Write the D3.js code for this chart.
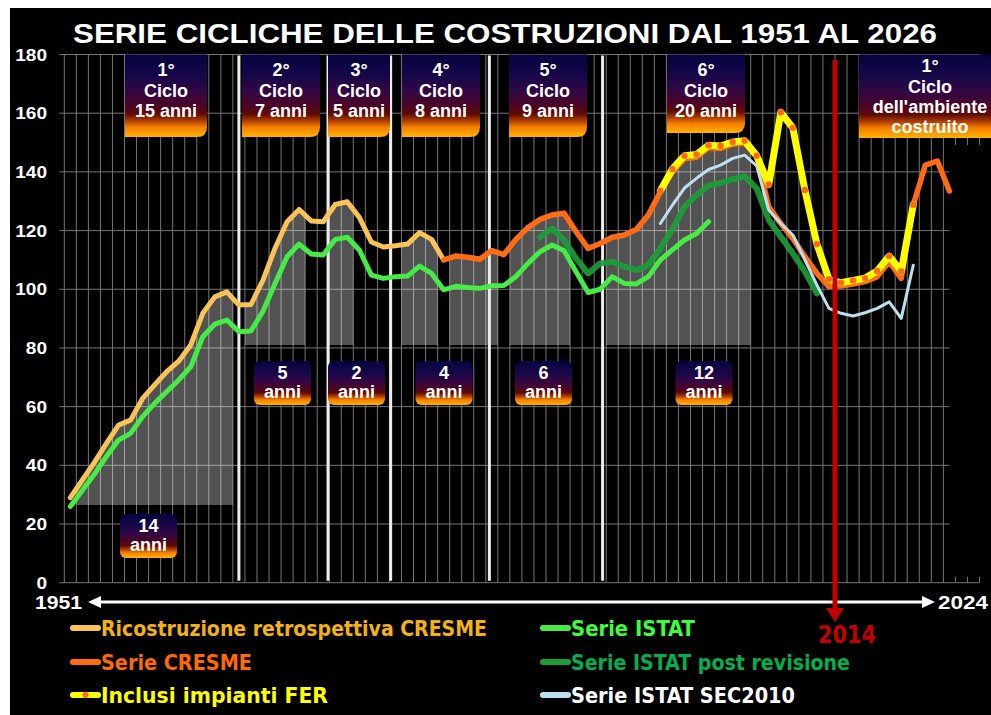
<!DOCTYPE html>
<html>
<head>
<meta charset="utf-8">
<script src="https://cdn.jsdelivr.net/npm/d3@7"></script>
<style>
  html, body { margin: 0; padding: 0; background: #ffffff; }
  svg { display: block; }
</style>
</head>
<body>
<svg id="chart" width="991" height="715"></svg>
<script>
// ---------------- data ----------------
const yTicks = [0, 20, 40, 60, 80, 100, 120, 140, 160, 180];

// Ricostruzione retrospettiva CRESME, 1951-1982
const recoStart = 1951;
const recoValues = [29, 35, 41, 47.5, 53.7, 55.4, 62.8, 67.4, 71.9, 75.5,
  81, 91.8, 97.4, 99.1, 94.6, 94.8, 103.1, 114, 123, 127.2,
  123.3, 123, 128.9, 129.8, 124.5, 116.1, 114.4, 114.8, 115.4, 119.3,
  117, 110];

// Serie ISTAT, 1951-2004
const istatStart = 1951;
const istatValues = [26, 31.5, 37, 43, 48.6, 50.9, 56.6, 61.1, 65.1, 69.1,
  73.6, 83.8, 88.1, 89.5, 85.5, 85.8, 92.5, 102, 111.1, 115.4,
  112, 111.7, 117, 117.7, 113.4, 104.8, 103.7, 104.3, 104.5, 107.9,
  105.4, 99.8, 101, 100.6, 100.3, 101.2, 101.3, 104.3, 108.8, 112.8,
  115.1, 113.1, 106, 98.9, 100, 104.3, 102, 101.8, 104.3, 110,
  113.4, 116.8, 119, 123];

// Serie CRESME, 1982-2024
const cresmeStart = 1982;
const cresmeValues = [110, 111.3, 110.9, 110.2, 113.2, 111.8, 117, 121, 123.8, 125.3,
  125.9, 119.6, 113.9, 115.6, 117.7, 118.5, 120.4, 125.3, 133.2, 140,
  144.5, 145, 148.2, 148, 149.4, 149.8, 145.2, 128.1, 122.4, 117.3,
  111.1, 105.4, 100.9, 101.1, 101.8, 102.6, 104.3, 109.4, 103.7, 128.7,
  142.3, 143.7, 133.5];

// Serie ISTAT post revisione, 1990-2013
const istatRevStart = 1990;
const istatRevValues = [117.7, 120.7, 116.8, 110.5, 105.4, 108.8, 109.4, 107.7, 106.5, 108.2,
  114, 120.5, 128.1, 132.1, 135.3, 136.2, 137.5, 138.5, 134.4, 123.6,
  117.9, 112.2, 106, 98.6];

// Serie ISTAT SEC2010, 2000-2021
const secStart = 2000;
const secValues = [122.4, 128.7, 134.5, 137.8, 140.8, 142.3, 144.6, 145.7, 142, 127,
  122.4, 118.5, 110, 101.4, 93.5, 91.8, 90.9, 92, 93.5, 95.7,
  90.1, 108.2];

// Inclusi impianti FER, 2000-2021
const ferStart = 2000;
const ferValues = [133.6, 141, 145.5, 145.9, 149.1, 148.8, 150.2, 150.6, 145.5, 135.7,
  160.3, 155, 133.8, 115.4, 103.4, 102.2, 103, 103.8, 106.2, 111.3,
  106.1, 128.8];

// expansion phases (shaded), first and last year, floor value
const phaseFrom = [1952, 1966, 1973, 1979, 1983, 1988, 1996];
const phaseTo   = [1964, 1970, 1974, 1981, 1986, 1992, 2007];
const phaseBase = [26.5, 81, 81, 81, 81, 81, 81];

// cycle boundaries (years)
const cycleBreaks = [1965.0, 1972.4, 1977.6, 1985.8, 1995.2];
const markerYear = 2014;

const cycleTitles = [
  ["1°", "Ciclo", "15 anni"],
  ["2°", "Ciclo", "7 anni"],
  ["3°", "Ciclo", "5 anni"],
  ["4°", "Ciclo", "8 anni"],
  ["5°", "Ciclo", "9 anni"],
  ["6°", "Ciclo", "20 anni"],
  ["1°", "Ciclo", "dell'ambiente", "costruito"]
];
const durationLabels = ["14", "5", "2", "4", "6", "12"];

// ---------------- layout ----------------
const W = 991, H = 715;
const topBoxes = [
  { x0: 125, x1: 207, y1: 137, cx: 166 },
  { x0: 242, x1: 320, y1: 137, cx: 281 },
  { x0: 328, x1: 390, y1: 137, cx: 359 },
  { x0: 402, x1: 480, y1: 137, cx: 441 },
  { x0: 509, x1: 587, y1: 137, cx: 548 },
  { x0: 667, x1: 745, y1: 133, cx: 706 },
  { x0: 859, x1: 1010, y1: 138, cx: 930 }
];
const durBoxes = [
  { cx: 148.5, y0: 514 },
  { cx: 282.5, y0: 361 },
  { cx: 356.5, y0: 361 },
  { cx: 444, y0: 361 },
  { cx: 543.5, y0: 361 },
  { cx: 704, y0: 361 }
];

const svg = d3.select("#chart");
const defs = svg.append("defs");

const grad = defs.append("linearGradient")
  .attr("id", "boxGrad").attr("x1", 0).attr("y1", 0).attr("x2", 0).attr("y2", 1);
[[0, "#04043f"], [0.25, "#160748"], [0.45, "#320744"], [0.62, "#4c0426"],
 [0.72, "#5e0a06"], [0.8, "#a83c00"], [0.88, "#f57e00"], [1, "#ffb400"]]
  .forEach(([o, c]) => grad.append("stop").attr("offset", o).attr("stop-color", c));

// background
svg.append("rect").attr("x", 10).attr("y", 8).attr("width", W - 10).attr("height", H - 8)
  .attr("fill", "#000000");

const x = d3.scaleLinear().domain([1950.5, 2026.5]).range([64.3, 979.5]);
const y = d3.scaleLinear().domain([0, 180]).range([582.7, 54.5]);

// grid
const grid = svg.append("g").attr("stroke", "#767676").attr("stroke-width", 1);
d3.range(1950.5, 2027.5, 1).forEach(b => {
  grid.append("line").attr("x1", x(b)).attr("x2", x(b))
    .attr("y1", y(180)).attr("y2", y(0));
});
yTicks.forEach(t => {
  grid.append("line").attr("x1", x(1950.5) - 5).attr("x2", x(2026.5))
    .attr("y1", y(t)).attr("y2", y(t));
});
// blank right margin of the plot
svg.append("rect").attr("x", x(2024.5) - 6).attr("y", 145)
  .attr("width", W - x(2024.5) + 6).attr("height", y(0) - 6 - 145).attr("fill", "#000");

// series helpers
const toSeries = (start, vals) => vals.map((v, i) => ({ year: start + i, value: v }));
const reco = toSeries(recoStart, recoValues);
const istat = toSeries(istatStart, istatValues);
const cresme = toSeries(cresmeStart, cresmeValues);
const istatRev = toSeries(istatRevStart, istatRevValues);
const sec = toSeries(secStart, secValues);
const fer = toSeries(ferStart, ferValues);

function valueAt(s, t) {
  const i = Math.floor(t) - s[0].year;
  if (i < 0 || i >= s.length) return -Infinity;
  const f = t - Math.floor(t);
  if (f === 0) return s[i].value;
  if (i + 1 >= s.length) return -Infinity;
  return s[i].value + (s[i + 1].value - s[i].value) * f;
}
const upper = t => Math.max(valueAt(reco, t), valueAt(cresme, t), valueAt(fer, t));

// shaded expansion phases
const area = d3.area().x(d => x(d.t)).y0(d => y(d.base)).y1(d => y(d.v));
phaseFrom.forEach((from, k) => {
  const to = phaseTo[k];
  const ts = [from - 0.5].concat(d3.range(from, to + 1), [to + 0.5]);
  const pts = ts.map(t => ({ t, v: upper(t), base: phaseBase[k] }));
  svg.append("path").attr("d", area(pts))
    .attr("fill", "#ffffff").attr("fill-opacity", 0.32);
});

// cycle separators
cycleBreaks.forEach(b => {
  svg.append("line").attr("x1", x(b)).attr("x2", x(b))
    .attr("y1", y(180) + 1).attr("y2", y(0) - 2)
    .attr("stroke", "#ececec").attr("stroke-width", 3);
});

// lines
const line = d3.line().x(d => x(d.year)).y(d => y(d.value));
function drawLine(s, color, w, op) {
  svg.append("path").attr("d", line(s)).attr("fill", "none")
    .attr("stroke", color).attr("stroke-width", w)
    .attr("stroke-opacity", op || 1)
    .attr("stroke-linejoin", "round").attr("stroke-linecap", "round");
}
drawLine(reco, "#fac355", 5);
drawLine(istat, "#46eb46", 5);
drawLine(cresme, "#ff6c14", 5.5);
drawLine(istatRev, "#1c9e38", 6, 0.9);
drawLine(sec, "#bde0ee", 3);
drawLine(fer, "#ffff00", 7);
svg.append("g").selectAll("circle").data(fer).join("circle")
  .attr("cx", d => x(d.year)).attr("cy", d => y(d.value)).attr("r", 3.2)
  .attr("fill", "#ff6a1a");

// timeline arrow 1951 -> 2024
const arrowY = 602;
svg.append("line").attr("x1", 96).attr("x2", 926).attr("y1", arrowY).attr("y2", arrowY)
  .attr("stroke", "#ffffff").attr("stroke-width", 3);
svg.append("polygon").attr("points", `88,${arrowY} 101,${arrowY - 6} 101,${arrowY + 6}`).attr("fill", "#fff");
svg.append("polygon").attr("points", `935,${arrowY} 922,${arrowY - 6} 922,${arrowY + 6}`).attr("fill", "#fff");

const boldFont = "'Liberation Sans', Arial, sans-serif";
const narrowFont = "'Liberation Sans Narrow', 'Arial Narrow', 'DejaVu Sans Condensed', sans-serif";

svg.append("text").attr("x", 82).attr("y", 609).attr("text-anchor", "end")
  .attr("font-family", boldFont).attr("font-weight", "bold").attr("font-size", 18)
  .attr("textLength", 47).attr("lengthAdjust", "spacingAndGlyphs")
  .attr("fill", "#fff").text("1951");
svg.append("text").attr("x", 938).attr("y", 609)
  .attr("font-family", boldFont).attr("font-weight", "bold").attr("font-size", 18)
  .attr("textLength", 50).attr("lengthAdjust", "spacingAndGlyphs")
  .attr("fill", "#fff").text("2024");

// 2014 marker
const mx = x(markerYear + 0.5);
svg.append("line").attr("x1", mx).attr("x2", mx).attr("y1", 60).attr("y2", 610)
  .attr("stroke", "#c40000").attr("stroke-width", 5);
svg.append("polygon").attr("points", `${mx - 9},608 ${mx + 9},608 ${mx},622`).attr("fill", "#c40000");
svg.append("text").attr("x", 847).attr("y", 643).attr("text-anchor", "middle")
  .attr("font-family", narrowFont).attr("font-weight", "bold").attr("font-size", 24)
  .attr("textLength", 58).attr("lengthAdjust", "spacingAndGlyphs")
  .attr("fill", "#c40000").text(String(markerYear));

// y axis labels
svg.append("g").selectAll("text").data(yTicks).join("text")
  .attr("x", 47).attr("y", d => y(d) + 6).attr("text-anchor", "end")
  .attr("font-family", boldFont).attr("font-weight", "bold").attr("font-size", 16)
  .attr("textLength", d => String(d).length * 10.6).attr("lengthAdjust", "spacingAndGlyphs")
  .attr("fill", "#ffffff").text(d => d);

// cycle boxes
topBoxes.forEach((b, k) => {
  const r = 10, y0 = y(180);
  svg.append("path")
    .attr("d", `M${b.x0},${y0} H${b.x1} V${b.y1 - r} Q${b.x1},${b.y1} ${b.x1 - r},${b.y1} H${b.x0} Z`)
    .attr("fill", "url(#boxGrad)");
  const lines = cycleTitles[k];
  const ys = lines.length === 3 ? [76, 97, 117] : [72, 93, 113, 133];
  lines.forEach((s, i) => {
    svg.append("text").attr("x", b.cx).attr("y", ys[i]).attr("text-anchor", "middle")
      .attr("font-family", boldFont).attr("font-weight", "bold").attr("font-size", 18)
      .attr("fill", "#ffffff").text(s);
  });
});

// duration boxes
durBoxes.forEach((b, k) => {
  svg.append("rect").attr("x", b.cx - 28.5).attr("y", b.y0).attr("width", 57).attr("height", 44)
    .attr("rx", 6).attr("fill", "url(#boxGrad)");
  svg.append("text").attr("x", b.cx).attr("y", b.y0 + 18).attr("text-anchor", "middle")
    .attr("font-family", boldFont).attr("font-weight", "bold").attr("font-size", 18)
    .attr("fill", "#ffffff").text(durationLabels[k]);
  svg.append("text").attr("x", b.cx).attr("y", b.y0 + 37).attr("text-anchor", "middle")
    .attr("font-family", boldFont).attr("font-weight", "bold").attr("font-size", 18)
    .attr("fill", "#ffffff").text("anni");
});

// title
svg.append("text").attr("x", 505).attr("y", 43).attr("text-anchor", "middle")
  .attr("font-family", boldFont).attr("font-weight", "bold").attr("font-size", 28)
  .attr("textLength", 864).attr("lengthAdjust", "spacingAndGlyphs")
  .attr("fill", "#ffffff").text("SERIE CICLICHE DELLE COSTRUZIONI DAL 1951 AL 2026");

// legend
const legend = [
  { col: 0, row: 0, line: "#fac355", text: "#f2b212", label: "Ricostruzione retrospettiva CRESME", w: 386 },
  { col: 0, row: 1, line: "#ff6c14", text: "#ff6a00", label: "Serie CRESME", w: 151 },
  { col: 0, row: 2, line: "#ffff00", text: "#ffff00", label: "Inclusi impianti FER", w: 227, dot: true },
  { col: 1, row: 0, line: "#46eb46", text: "#3cff3c", label: "Serie ISTAT", w: 124 },
  { col: 1, row: 1, line: "#1c9e38", text: "#00b050", label: "Serie ISTAT post revisione", w: 279 },
  { col: 1, row: 2, line: "#bde0ee", text: "#ffffff", label: "Serie ISTAT SEC2010", w: 224 }
];
const rowY = [628, 662, 695];
const colX = [70, 540];
legend.forEach(d => {
  const lx = colX[d.col], ly = rowY[d.row];
  svg.append("line").attr("x1", lx + 3).attr("x2", lx + 28).attr("y1", ly).attr("y2", ly)
    .attr("stroke", d.line).attr("stroke-width", 6).attr("stroke-linecap", "round");
  if (d.dot) svg.append("circle").attr("cx", lx + 15.5).attr("cy", ly).attr("r", 3).attr("fill", "#ff6a1a");
  svg.append("text").attr("x", lx + 31).attr("y", ly + 8)
    .attr("font-family", narrowFont).attr("font-weight", "bold").attr("font-size", 22)
    .attr("textLength", d.w).attr("lengthAdjust", "spacingAndGlyphs")
    .attr("fill", d.text).text(d.label);
});
</script>
</body>
</html>
